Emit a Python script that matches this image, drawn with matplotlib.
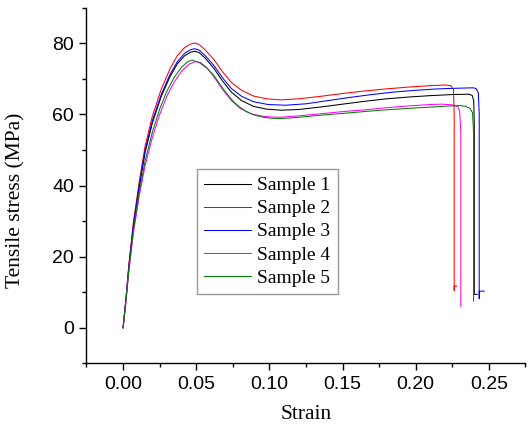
import matplotlib
matplotlib.use("Agg")
import matplotlib.pyplot as plt
from matplotlib.ticker import MultipleLocator, FormatStrFormatter

labels = ["Sample 1", "Sample 2", "Sample 3", "Sample 4", "Sample 5"]
colors = ["#000000", "#ff0000", "#0000ff", "#ff00ff", "#008000"]

strain_1 = [0, 0.002, 0.004, 0.007, 0.011, 0.015, 0.020, 0.026, 0.032, 0.037, 0.042, 0.046, 0.049,
            0.052, 0.056, 0.062, 0.068, 0.074, 0.081, 0.089, 0.098, 0.108, 0.120, 0.135, 0.150,
            0.165, 0.180, 0.195, 0.210, 0.225, 0.236, 0.2385, 0.2396, 0.2400, 0.2400, 0.2420]
stress_1 = [0, 8, 17.2, 28.3, 39.4, 49.2, 57.6, 65, 70.6, 74.2, 76.5, 77.5, 77.8,
            77.4, 75.9, 73, 69.4, 66.3, 63.9, 62.3, 61.5, 61.2, 61.4, 62.1, 62.9,
            63.7, 64.4, 64.9, 65.3, 65.6, 65.7, 65.4, 64, 58, 9.4, 9.4]

strain_2 = [0, 0.002, 0.004, 0.007, 0.011, 0.015, 0.020, 0.026, 0.032, 0.037, 0.042, 0.046, 0.049,
            0.052, 0.056, 0.062, 0.068, 0.074, 0.081, 0.089, 0.098, 0.108, 0.120, 0.135, 0.150,
            0.165, 0.180, 0.195, 0.210, 0.220, 0.224, 0.2258, 0.2263, 0.2263, 0.2263, 0.2280]
stress_2 = [0, 8.5, 18, 29.5, 41, 51, 59.5, 67, 72.8, 76.5, 78.8, 79.8, 80.1,
            79.7, 78.2, 75.5, 72, 69, 66.8, 65.2, 64.4, 64.1, 64.4, 65.1, 65.9,
            66.6, 67.2, 67.7, 68.1, 68.3, 68.1, 67.0, 60, 10.5, 11.7, 11.7]

strain_3 = [0, 0.002, 0.004, 0.007, 0.011, 0.015, 0.020, 0.026, 0.032, 0.037, 0.042, 0.046, 0.049,
            0.052, 0.056, 0.062, 0.068, 0.074, 0.081, 0.089, 0.099, 0.111, 0.125, 0.140, 0.155,
            0.170, 0.185, 0.200, 0.215, 0.230, 0.2395, 0.2415, 0.2428, 0.2434, 0.2434, 0.2434, 0.2468]
stress_3 = [0, 8.2, 17.5, 28.8, 40, 49.8, 58.2, 65.5, 71.2, 74.8, 77.2, 78.2, 78.5,
            78.1, 76.6, 73.8, 70.3, 67.3, 65.1, 63.6, 62.8, 62.6, 63.0, 63.9, 64.8,
            65.6, 66.3, 66.8, 67.2, 67.4, 67.5, 67.2, 66, 60, 8.2, 10.3, 10.3]

strain_4 = [0, 0.002, 0.004, 0.007, 0.011, 0.015, 0.020, 0.025, 0.030, 0.035, 0.040, 0.045, 0.0495,
            0.053, 0.057, 0.062, 0.068, 0.074, 0.080, 0.088, 0.097, 0.107, 0.120, 0.135, 0.150,
            0.165, 0.180, 0.195, 0.210, 0.218, 0.225, 0.2288, 0.2300, 0.2308, 0.2308]
stress_4 = [0, 7.5, 16, 26.5, 37, 45.5, 53.5, 60, 65.2, 69.2, 72.2, 74.1, 74.9,
            74.6, 73.3, 70.6, 67, 63.9, 61.7, 60.1, 59.4, 59.2, 59.6, 60.2, 60.8,
            61.3, 61.9, 62.4, 62.8, 62.9, 62.7, 62.2, 61, 55, 6.0]

strain_5 = [0, 0.002, 0.004, 0.007, 0.011, 0.015, 0.020, 0.025, 0.030, 0.035, 0.040, 0.044, 0.047,
            0.052, 0.0574, 0.062, 0.0665, 0.071, 0.0755, 0.080, 0.0847, 0.090, 0.096, 0.102, 0.110,
            0.120, 0.135, 0.153, 0.176, 0.1985, 0.215, 0.2236, 0.230, 0.234, 0.237, 0.2388, 0.2395, 0.2395]
stress_5 = [0, 7.8, 16.5, 27.3, 38, 46.8, 55, 61.5, 66.6, 70.5, 73.3, 74.8, 75.3,
            74.6, 73.0, 71.0, 68.3, 65.8, 63.6, 62.0, 60.7, 59.8, 59.2, 58.9, 58.9,
            59.2, 59.8, 60.4, 61.2, 61.8, 62.2, 62.4, 62.5, 62.3, 61.7, 60.5, 55, 7.5]

x_ticks = [0.00, 0.05, 0.10, 0.15, 0.20, 0.25]
y_ticks = [0, 20, 40, 60, 80]

strains = [strain_1, strain_2, strain_3, strain_4, strain_5]
stresses = [stress_1, stress_2, stress_3, stress_4, stress_5]

fig = plt.figure(figsize=(5.31, 4.32), dpi=100)
ax = fig.add_axes([0.1629, 0.159, 0.8267, 0.8229])

for x, y, c, lab in zip(strains, stresses, colors, labels):
    ax.plot(x, y, color=c, lw=0.75, label=lab)

ax.set_xlim(-0.025, 0.275)
ax.set_ylim(-10, 90)
ax.set_xticks(x_ticks)
ax.set_yticks(y_ticks)
ax.xaxis.set_minor_locator(MultipleLocator(0.025))
ax.yaxis.set_minor_locator(MultipleLocator(10))
ax.xaxis.set_major_formatter(FormatStrFormatter("%.2f"))

for s in ["top", "right"]:
    ax.spines[s].set_visible(False)
for s in ["left", "bottom"]:
    ax.spines[s].set_linewidth(1.0)

ax.tick_params(which="major", direction="out", length=5, width=1.0, pad=4, labelsize=14)
ax.tick_params(which="minor", direction="out", length=3, width=1.0)
for t in ax.get_xticklabels() + ax.get_yticklabels():
    t.set_fontfamily("Liberation Sans")

ax.set_xlabel("Strain", fontsize=15.5, fontfamily="Liberation Serif", labelpad=9)
ax.set_ylabel("Tensile stress (MPa)", fontsize=15.5, fontfamily="Liberation Serif")
ax.yaxis.set_label_coords(-0.14, 0.459)

leg = ax.legend(loc="upper left", bbox_to_anchor=(0.251, 0.5466), frameon=True, fancybox=False,
                prop={"family": "Liberation Serif", "size": 14}, handlelength=2.4,
                handletextpad=0.3, labelspacing=0.28, borderpad=0.4, borderaxespad=0)
leg.get_frame().set_edgecolor("#808080")
leg.get_frame().set_linewidth(1.0)

fig.savefig("out.png", dpi=100)
